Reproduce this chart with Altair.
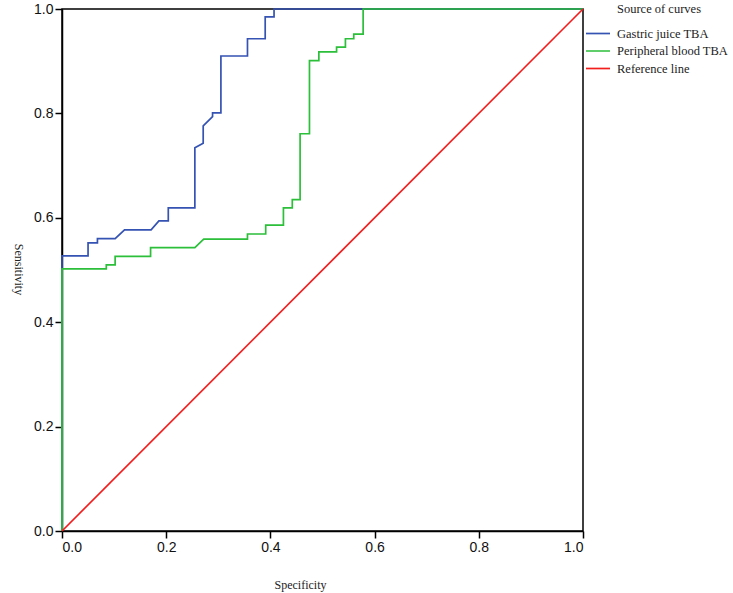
import altair as alt
import pandas as pd

# Curve names and colours, in legend order
series_names = ["Gastric juice TBA", "Peripheral blood TBA", "Reference line"]
series_colors = ["#3553B3", "#2BBF3A", "#F21E1E"]
legend_title = "Source of curves"

# ROC vertices (x = specificity axis, y = sensitivity)
gastric_spec = [0.0, 0.0, 0.050, 0.050, 0.068, 0.068, 0.102, 0.120, 0.171, 0.186,
                0.204, 0.204, 0.255, 0.255, 0.271, 0.271, 0.289, 0.289, 0.305,
                0.305, 0.356, 0.356, 0.390, 0.390, 0.407, 0.407, 1.0]
gastric_sens = [0.0, 0.527, 0.527, 0.552, 0.552, 0.560, 0.560, 0.577, 0.577, 0.594,
                0.594, 0.619, 0.619, 0.734, 0.743, 0.776, 0.794, 0.801, 0.801,
                0.910, 0.910, 0.943, 0.943, 0.985, 0.985, 1.0, 1.0]

blood_spec = [0.0, 0.0, 0.085, 0.085, 0.102, 0.102, 0.170, 0.170, 0.255, 0.272,
              0.356, 0.356, 0.391, 0.391, 0.425, 0.425, 0.442, 0.442, 0.457,
              0.457, 0.475, 0.475, 0.493, 0.493, 0.527, 0.527, 0.544, 0.544,
              0.560, 0.560, 0.578, 0.578, 1.0]
blood_sens = [0.0, 0.502, 0.502, 0.510, 0.510, 0.526, 0.526, 0.543, 0.543, 0.559,
              0.559, 0.569, 0.569, 0.586, 0.586, 0.619, 0.619, 0.635, 0.635,
              0.761, 0.761, 0.901, 0.901, 0.918, 0.918, 0.927, 0.927, 0.943,
              0.943, 0.952, 0.952, 1.0, 1.0]

ref_spec = [0.0, 1.0]
ref_sens = [0.0, 1.0]

tick_values = [0.0, 0.2, 0.4, 0.6, 0.8, 1.0]

rows = []
for name, xs, ys in zip(series_names,
                        [gastric_spec, blood_spec, ref_spec],
                        [gastric_sens, blood_sens, ref_sens]):
    for i, (x, y) in enumerate(zip(xs, ys)):
        rows.append({"curve": name, "spec": x, "sens": y, "step": i})
df = pd.DataFrame(rows)

lines = alt.Chart(df).mark_line(strokeWidth=1.7, interpolate="linear").encode(
    x=alt.X("spec:Q",
            scale=alt.Scale(domain=[0, 1], nice=False, zero=False),
            axis=alt.Axis(title="Specificity", values=tick_values, format=".1f",
                          titleX=238, titleY=53, titleBaseline="middle",
                          titleAlign="center")),
    y=alt.Y("sens:Q",
            scale=alt.Scale(domain=[0, 1], nice=False, zero=False),
            axis=alt.Axis(title="Sensitivity", values=tick_values, format=".1f",
                          titleAngle=90, titleX=-44, titleY=260,
                          titleBaseline="middle", titleAlign="center")),
    color=alt.Color("curve:N",
                    scale=alt.Scale(domain=series_names, range=series_colors),
                    legend=alt.Legend(title=None, orient="none", legendX=523,
                                      legendY=18, symbolType="stroke",
                                      symbolSize=576, symbolStrokeWidth=1.7,
                                      clipHeight=13,
                                      labelFont="Liberation Serif",
                                      labelFontSize=12.5, labelColor="#222",
                                      labelOffset=6, rowPadding=4.5)),
    order="step:Q",
)

header = alt.Chart(pd.DataFrame({"t": [legend_title]})).mark_text(
    align="left", baseline="middle", font="Liberation Serif", fontSize=12.5,
    color="#222"
).encode(x=alt.value(555), y=alt.value(0), text="t:N")

chart = alt.layer(lines, header).properties(
    width=521, height=522,
    padding={"left": 62, "top": 9, "right": 150, "bottom": 62},
    autosize=alt.AutoSizeParams(type="none"),
).configure_view(
    stroke="black", strokeWidth=1.5
).configure_axis(
    grid=False, domainColor="black", domainWidth=1.5, tickColor="black",
    tickWidth=1.5, tickSize=7, labelFont="Liberation Sans", labelFontSize=14,
    labelColor="#111", labelPadding=2, titleFont="Liberation Serif",
    titleFontSize=12, titleFontWeight="normal", titleColor="#222"
)

chart.save("out.html", embed_options={"renderer": "svg", "actions": False})
